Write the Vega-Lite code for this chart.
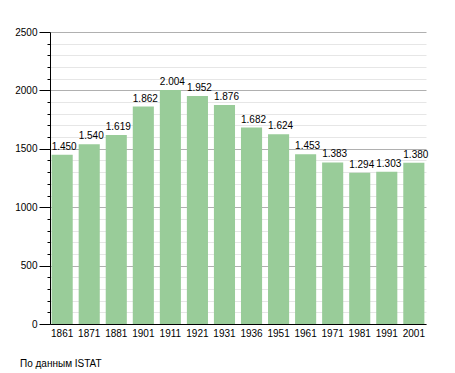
{
  "$schema": "https://vega.github.io/schema/vega-lite/v6.json",
  "autosize": "none",
  "width": 376,
  "height": 292,
  "padding": {"left": 50, "top": 32, "right": 29, "bottom": 49},
  "background": "white",
  "config": {
    "view": {"stroke": null},
    "font": "Liberation Sans",
    "locale": {"number": {"decimal": ",", "thousands": ".", "grouping": [3], "currency": ["", ""]}}
  },
  "title": {
    "text": "По данным  ISTAT",
    "orient": "bottom",
    "anchor": "start",
    "frame": "group",
    "dx": -30,
    "offset": 21,
    "fontSize": 10,
    "fontWeight": "normal",
    "color": "#000000"
  },
  "data": {
    "values": [
      {"year": "1861", "pop": 1450},
      {"year": "1871", "pop": 1540},
      {"year": "1881", "pop": 1619},
      {"year": "1901", "pop": 1862},
      {"year": "1911", "pop": 2004},
      {"year": "1921", "pop": 1952},
      {"year": "1931", "pop": 1876},
      {"year": "1936", "pop": 1682},
      {"year": "1951", "pop": 1624},
      {"year": "1961", "pop": 1453},
      {"year": "1971", "pop": 1383},
      {"year": "1981", "pop": 1294},
      {"year": "1991", "pop": 1303},
      {"year": "2001", "pop": 1380}
    ]
  },
  "encoding": {
    "x": {
      "field": "year",
      "type": "ordinal",
      "scale": {"paddingInner": 0.22, "paddingOuter": 0.06},
      "axis": {
        "title": null,
        "labelAngle": 0,
        "labelFontSize": 10,
        "labelColor": "#000000",
        "labelPadding": 4,
        "ticks": false,
        "domainColor": "#000000",
        "domainWidth": 1
      }
    },
    "y": {
      "field": "pop",
      "type": "quantitative",
      "scale": {"domain": [0, 2500], "nice": false},
      "axis": {
        "title": null,
        "values": [0,100,200,300,400,500,600,700,800,900,1000,1100,1200,1300,1400,1500,1600,1700,1800,1900,2000,2100,2200,2300,2400,2500],
        "labelExpr": "datum.value % 500 === 0 ? datum.value : ''",
        "labelFontSize": 10,
        "labelColor": "#000000",
        "labelPadding": 2,
        "tickColor": "#000000",
        "tickSize": {"condition": {"test": "datum.value % 500 === 0", "value": 11}, "value": 3},
        "domainColor": "#000000",
        "grid": true,
        "gridColor": {"condition": {"test": "datum.value % 500 === 0", "value": "#b0b0b0"}, "value": "#e6e6e6"},
        "gridWidth": 1
      }
    }
  },
  "layer": [
    {"mark": {"type": "bar", "color": "#99cc99"}},
    {
      "mark": {"type": "text", "baseline": "bottom", "dy": -3, "dx": 2, "fontSize": 10, "color": "#000000"},
      "encoding": {"text": {"field": "pop", "type": "quantitative", "format": ",d"}}
    }
  ]
}
